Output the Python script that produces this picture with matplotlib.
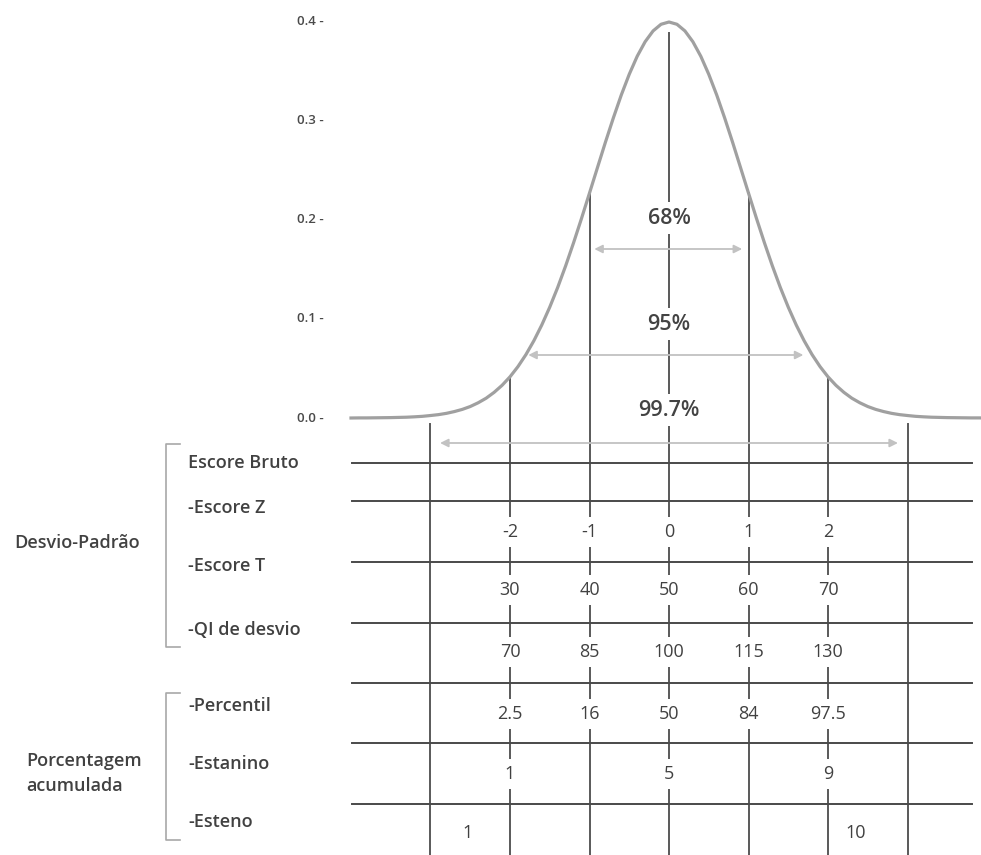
import matplotlib
matplotlib.use("Agg")
import matplotlib.pyplot as plt


# ------------------------------------------------------------
# Data
# ------------------------------------------------------------
# curve: x in standard deviations, y = height as drawn on the 0.0-0.4 scale
CURVE_Z = [-4.0, -3.9, -3.8, -3.7, -3.6, -3.5, -3.4, -3.3, -3.2, -3.1,
           -3.0, -2.9, -2.8, -2.7, -2.6, -2.5, -2.4, -2.3, -2.2, -2.1,
           -2.0, -1.9, -1.8, -1.7, -1.6, -1.5, -1.4, -1.3, -1.2, -1.1,
           -1.0, -0.9, -0.8, -0.7, -0.6, -0.5, -0.4, -0.3, -0.2, -0.1,
           0.0,
           0.1, 0.2, 0.3, 0.4, 0.5, 0.6, 0.7, 0.8, 0.9, 1.0,
           1.1, 1.2, 1.3, 1.4, 1.5, 1.6, 1.7, 1.8, 1.9, 2.0,
           2.1, 2.2, 2.3, 2.4, 2.5, 2.6, 2.7, 2.8, 2.9, 3.0,
           3.1, 3.2, 3.3, 3.4, 3.5, 3.6, 3.7, 3.8, 3.9, 4.0]
CURVE_Y = [0.0000, 0.0001, 0.0001, 0.0002, 0.0003, 0.0004, 0.0006, 0.0008, 0.0012, 0.0017,
           0.0025, 0.0034, 0.0047, 0.0065, 0.0087, 0.0116, 0.0154, 0.0200, 0.0259, 0.0330,
           0.0416, 0.0519, 0.0640, 0.0780, 0.0940, 0.1120, 0.1319, 0.1537, 0.1771, 0.2017,
           0.2272, 0.2529, 0.2785, 0.3031, 0.3263, 0.3472, 0.3654, 0.3801, 0.3910, 0.3977,
           0.4000,
           0.3977, 0.3910, 0.3801, 0.3654, 0.3472, 0.3263, 0.3031, 0.2785, 0.2529, 0.2272,
           0.2017, 0.1771, 0.1537, 0.1319, 0.1120, 0.0940, 0.0780, 0.0640, 0.0519, 0.0416,
           0.0330, 0.0259, 0.0200, 0.0154, 0.0116, 0.0087, 0.0065, 0.0047, 0.0034, 0.0025,
           0.0017, 0.0012, 0.0008, 0.0006, 0.0004, 0.0003, 0.0002, 0.0001, 0.0001, 0.0000]

Y_TICKS = [0.0, 0.1, 0.2, 0.3, 0.4]

SD_LINES = [-3, -2, -1, 0, 1, 2, 3]

INTERVALS = ["68%", "95%", "99.7%"]
INTERVAL_LEFT = [-0.94, -1.77, -2.88]
INTERVAL_RIGHT = [0.92, 1.69, 2.88]

CORE_SD = [-2, -1, 0, 1, 2]
Z_SCORES = ["-2", "-1", "0", "1", "2"]
T_SCORES = ["30", "40", "50", "60", "70"]
IQ_SCORES = ["70", "85", "100", "115", "130"]
PERCENTILES = ["2.5", "16", "50", "84", "97.5"]

STANINE_SD = [-2, 0, 2]
STANINES = ["1", "5", "9"]
STEN_SD = [-2.54, 2.35]
STENS = ["1", "10"]

ROW_LABELS = ["Escore Bruto", "-Escore Z", "-Escore T", "-QI de desvio",
              "-Percentil", "-Estanino", "-Esteno"]


# ------------------------------------------------------------
# Layout helpers (figure pixels -> data coords)
# ------------------------------------------------------------
W, H = 981, 855
X_MEAN, X_SD = 669, 79.5
Y_ZERO, Y_UNIT = 418, 990


def X(px):
    return (px - X_MEAN) / X_SD


def Y(py):
    return (Y_ZERO - py) / Y_UNIT


CURVE_COLOR = "#a0a0a0"
LINE_COLOR = "#595959"
GRID_COLOR = "#4a4a4a"
ARROW_COLOR = "#c2c2c2"
TEXT_COLOR = "#414141"

plt.rcParams["font.family"] = ["Open Sans", "DejaVu Sans"]

fig = plt.figure(figsize=(W / 100, H / 100), dpi=100)
ax = fig.add_axes([0, 0, 1, 1])
ax.set_xlim(X(0), X(W))
ax.set_ylim(Y(H), Y(0))
ax.axis("off")

# ------------------------------------------------------------
# Curve and y labels
# ------------------------------------------------------------
ax.plot(CURVE_Z, CURVE_Y, color=CURVE_COLOR, lw=2.3, zorder=3)

for v in Y_TICKS:
    ax.text(X(324), v, f"{v:.1f} -", ha="right", va="center",
            fontsize=9.5, color="#4a4a4a", fontweight="semibold")

# ------------------------------------------------------------
# Vertical sd lines (tops depend on distance from the mean)
# ------------------------------------------------------------
line_tops = {0: 33, 1: 193, 2: 378, 3: 424}
for sd in SD_LINES:
    ax.plot([sd, sd], [Y(H + 5), Y(line_tops[abs(sd)])],
            color=LINE_COLOR, lw=1.4, zorder=1)

# ------------------------------------------------------------
# Interval arrows and labels
# ------------------------------------------------------------
arrow_y = [249, 355, 443]
label_y = [218, 324, 410]
for lab, left, right, ay, ly in zip(INTERVALS, INTERVAL_LEFT, INTERVAL_RIGHT,
                                    arrow_y, label_y):
    ax.annotate("", xy=(left, Y(ay)), xytext=(right, Y(ay)),
                arrowprops=dict(arrowstyle="<|-|>", color=ARROW_COLOR, lw=1.3,
                                mutation_scale=12, shrinkA=0, shrinkB=0),
                zorder=2)
    ax.text(0, Y(ly), lab, ha="center", va="center", fontsize=15.5,
            color="#434343", fontweight="semibold", zorder=4,
            bbox=dict(facecolor="white", edgecolor="none", pad=4))

# ------------------------------------------------------------
# Table grid
# ------------------------------------------------------------
row_lines = [463, 501, 562, 623, 683, 743, 804]
for py in row_lines:
    ax.plot([X(352), X(972)], [Y(py), Y(py)], color=GRID_COLOR, lw=1.4, zorder=1)

label_rows = [463, 508, 566, 630, 706, 764, 822]
for lab, py in zip(ROW_LABELS, label_rows):
    ax.text(X(188), Y(py), lab, ha="left", va="center", fontsize=13,
            color=TEXT_COLOR, fontweight="semibold")

# brackets
for top, bottom in [(444, 647), (693, 840)]:
    ax.plot([X(180), X(166), X(166), X(180)],
            [Y(top), Y(top), Y(bottom), Y(bottom)],
            color="#a8a8a8", lw=1.2)

ax.text(X(14), Y(543), "Desvio-Padrão", ha="left", va="center",
        fontsize=13, color=TEXT_COLOR, fontweight="semibold")
ax.text(X(26), Y(761), "Porcentagem", ha="left", va="center",
        fontsize=13, color=TEXT_COLOR, fontweight="semibold")
ax.text(X(26), Y(786), "acumulada", ha="left", va="center",
        fontsize=13, color=TEXT_COLOR, fontweight="semibold")

# numbers in the table
number_box = dict(facecolor="white", edgecolor="none", pad=4)
for labels, py in [(Z_SCORES, 532), (T_SCORES, 590), (IQ_SCORES, 652),
                   (PERCENTILES, 714)]:
    for sd, lab in zip(CORE_SD, labels):
        ax.text(sd, Y(py), lab, ha="center", va="center", fontsize=13,
                color=TEXT_COLOR, bbox=number_box, zorder=4)

for sd, lab in zip(STANINE_SD, STANINES):
    ax.text(sd, Y(774), lab, ha="center", va="center", fontsize=13,
            color=TEXT_COLOR, bbox=number_box, zorder=4)

for sd, lab in zip(STEN_SD, STENS):
    ax.text(sd, Y(833), lab, ha="center", va="center", fontsize=13,
            color=TEXT_COLOR, zorder=4)

fig.savefig("out.png", dpi=100)
